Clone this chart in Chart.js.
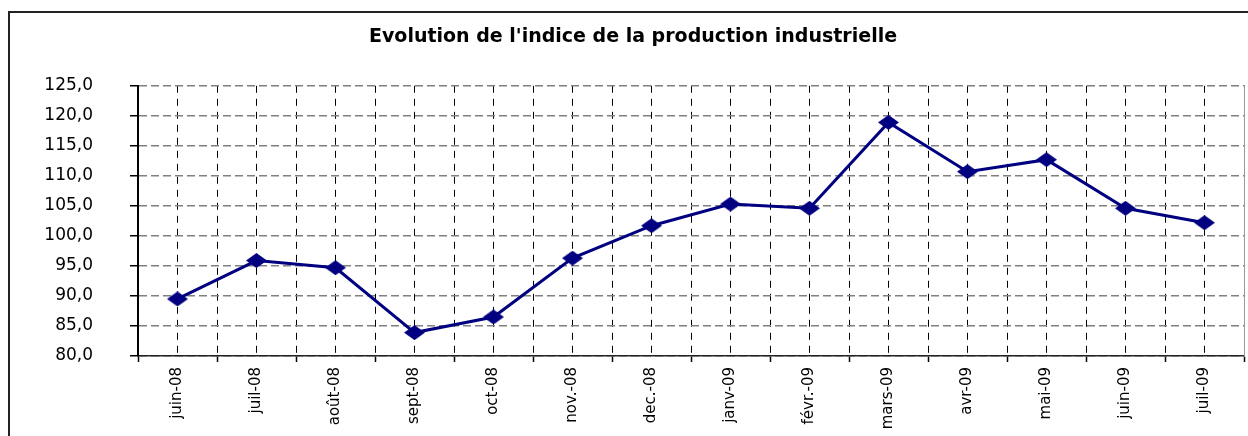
<!DOCTYPE html>
<html><head><meta charset="utf-8">
<script src="https://cdn.jsdelivr.net/npm/chart.js@4.4.1/dist/chart.umd.min.js"></script>
<style>
html,body{margin:0;padding:0;background:#fff;overflow:hidden;}
#wrap{position:relative;width:1248px;height:436px;overflow:hidden;}
#frame{position:absolute;left:8px;top:11px;width:1300px;height:500px;border:2px solid #222;box-sizing:border-box;}
canvas{position:absolute;left:0;top:0;}
</style></head><body>
<div id="wrap"><div id="frame"></div><canvas id="c" width="1248" height="436"></canvas></div>
<script>
const titleText = "Evolution de l'indice de la production industrielle";
const categories = ['juin-08','juil-08','août-08','sept-08','oct-08','nov.-08','dec.-08','janv-09','févr.-09','mars-09','avr-09','mai-09','juin-09','juil-09'];
const indexValues = [89.5, 95.9, 94.7, 83.9, 86.5, 96.3, 101.7, 105.3, 104.6, 118.9, 110.7, 112.7, 104.6, 102.2];
const yMin = 80, yMax = 125, yStep = 5;

function diamond(w, h, color) {
  const c = document.createElement('canvas');
  c.width = w; c.height = h;
  const g = c.getContext('2d');
  g.fillStyle = color;
  g.beginPath();
  g.moveTo(w / 2, 0); g.lineTo(w, h / 2); g.lineTo(w / 2, h); g.lineTo(0, h / 2);
  g.closePath(); g.fill();
  return c;
}
const marker = diamond(21, 15, '#000080');

new Chart(document.getElementById('c'), {
  type: 'line',
  data: {
    labels: categories,
    datasets: [{
      data: indexValues,
      borderColor: '#000080',
      backgroundColor: '#000080',
      borderWidth: 3,
      pointStyle: marker,
      pointRadius: 8,
      pointHoverRadius: 8,
      tension: 0,
      xAxisID: 'x',
      yAxisID: 'y'
    }]
  },
  options: {
    responsive: false,
    animation: false,
    devicePixelRatio: 1,
    layout: { autoPadding: false, padding: { left: 22, right: 4, top: 0, bottom: 0 } },
    plugins: {
      legend: { display: false },
      tooltip: { enabled: false },
      title: {
        display: true, text: titleText, color: '#000',
        font: { family: 'DejaVu Sans', size: 19, weight: 'bold' },
        padding: { top: 26, bottom: 37 }
      }
    },
    scales: {
      x: {
        type: 'category', offset: true, position: 'bottom',
        grid: {
          offset: true,
          color: c => (c.index === 0 || c.index === categories.length) ? 'rgba(0,0,0,0)' : '#000',
          lineWidth: 1, tickLength: 6, tickColor: '#000', tickWidth: 1.5, tickBorderDash: []
        },
        border: { display: true, color: '#222', width: 1.5, dash: [7, 6] },
        ticks: { autoSkip: false, minRotation: 90, maxRotation: 90, padding: 5, color: '#000',
                 font: { family: 'DejaVu Sans', size: 15 } },
        afterFit: s => { s.height = 80; s.paddingLeft = 0; s.paddingRight = 0; }
      },
      xc: {
        type: 'category', axis: 'x', offset: true, position: 'bottom', labels: categories,
        grid: { offset: false, color: '#000', lineWidth: 1, drawTicks: false },
        border: { display: false, dash: [7, 6] },
        ticks: { display: false },
        afterFit: s => { s.height = 0; s.paddingLeft = 0; s.paddingRight = 0; }
      },
      y: {
        min: yMin, max: yMax, position: 'left',
        ticks: { stepSize: yStep, callback: v => Number(v).toFixed(1).replace('.', ','), color: '#000',
                 padding: 37, font: { family: 'DejaVu Sans', size: 17 } },
        grid: { color: '#808080', lineWidth: 1.5, tickLength: 8, tickColor: '#000', tickWidth: 1.5, tickBorderDash: [] },
        border: { display: true, color: '#000', width: 2, dash: [8, 4] },
        afterFit: s => { s.width = 116; }
      },
      y2: {
        axis: 'y', position: 'right', display: true,
        grid: { display: false }, ticks: { display: false },
        border: { display: true, color: '#999', width: 1 },
        afterFit: s => { s.width = 0; }
      }
    }
  }
});
</script>
</body></html>
